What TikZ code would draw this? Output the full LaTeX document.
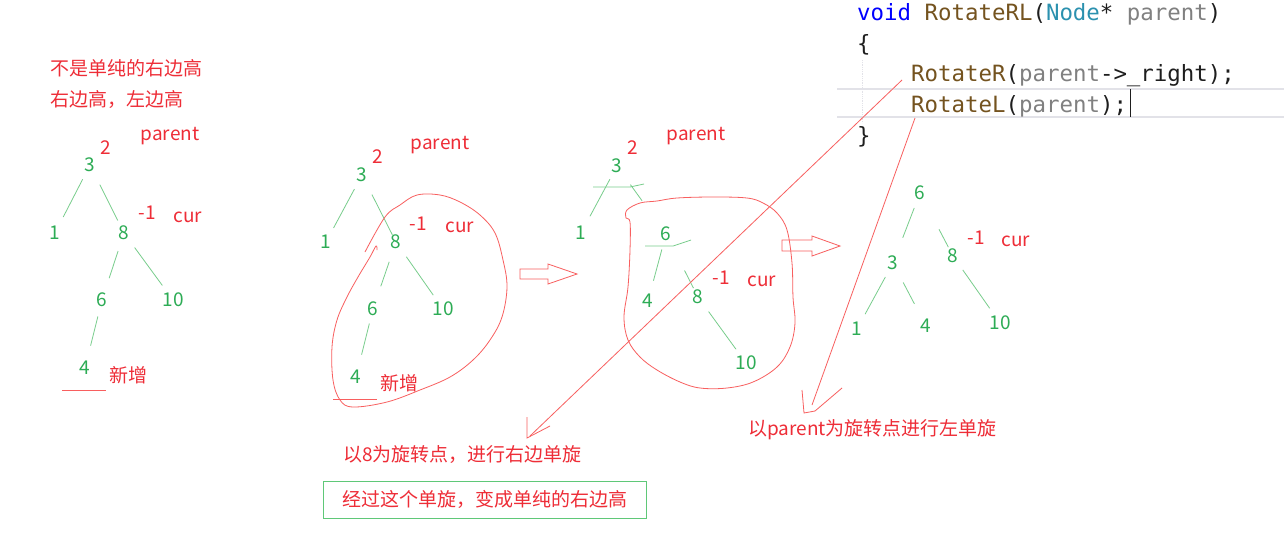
\documentclass[tikz,border=0pt]{standalone}
\usepackage{fontspec}
\setmainfont{Noto Sans CJK SC}
\newfontfamily\codefont{DejaVu Sans Mono}
\usetikzlibrary{positioning}
\definecolor{redtext}{RGB}{238,45,55}
\definecolor{redline}{RGB}{248,95,95}
\definecolor{greentext}{RGB}{45,172,85}
\definecolor{greenline}{RGB}{120,205,140}
\definecolor{boxgreen}{RGB}{95,200,120}
\definecolor{kwblue}{RGB}{0,0,255}
\definecolor{fnbrown}{RGB}{116,83,31}
\definecolor{tpteal}{RGB}{43,145,175}
\definecolor{pargray}{RGB}{128,128,128}
\definecolor{codedark}{RGB}{30,30,30}
\definecolor{guide}{RGB}{226,226,232}

\begin{document}
\begin{tikzpicture}[x=1pt, y=-1pt, font=\fontsize{19}{23}\selectfont,
  num/.style={text=greentext, inner sep=0pt},
  lab/.style={text=redtext, inner sep=0pt},
  tl/.style={draw=greenline, line width=0.8pt},
  pen/.style={draw=redline, line width=0.8pt},
  code/.style={text=codedark, inner sep=0pt, anchor=base west,
    font=\codefont\fontsize{22.4}{26}\selectfont}]
  \path[fill=white, use as bounding box] (0,0) rectangle (1284,542);

  % Tree 1
  \node[lab, anchor=west] (noteA) at (50,68) {不是单纯的右边高};
  \node[lab, anchor=west] (noteB) at (50,100) {右边高，左边高};
  \node[lab] (parA) at (170,136) {parent};
  \node[lab] (bfA3) at (106,148) {2};
  \node[num] (a3) at (90,165) {3};
  \node[num] (a1) at (55,233) {1};
  \node[num] (a8) at (124,233) {8};
  \node[lab] (bfA8) at (147,213) {-1};
  \node[lab] (curA) at (188,217) {cur};
  \node[num] (a6) at (102,300) {6};
  \node[num] (a10) at (173,300) {10};
  \node[num] (a4) at (85,368) {4};
  \node[lab] (newA) at (128,375) {新增};
  \draw[tl, shorten <=16pt, shorten >=18pt] (a3.center) -- (a1.center);
  \draw[tl, shorten <=22pt, shorten >=14pt] (a3.center) -- (a8.center);
  \draw[tl, shorten <=19pt, shorten >=23pt] (a8.center) -- (a6.center);
  \draw[tl, shorten <=18pt, shorten >=18pt] (a8.center) -- (a10.center);
  \draw[tl, shorten <=17pt, shorten >=23pt] (a6.center) -- (a4.center);
  \draw[pen] (62,390) -- (106,390);

  % Tree 2
  \node[lab] (parB) at (440,145) {parent};
  \node[lab] (bfB3) at (378,157) {2};
  \node[num] (b3) at (362,175) {3};
  \node[num] (b1) at (326,242) {1};
  \node[num] (b8) at (396,242) {8};
  \node[lab] (bfB8) at (418,224) {-1};
  \node[lab] (curB) at (460,227) {cur};
  \node[num] (b6) at (373,309) {6};
  \node[num] (b10) at (443,309) {10};
  \node[num] (b4) at (356,377) {4};
  \node[lab] (newB) at (399,383) {新增};
  \draw[tl, shorten <=16pt, shorten >=16pt] (b3.center) -- (b1.center);
  \draw[tl, shorten <=22pt, shorten >=8pt] (b3.center) -- (b8.center);
  \draw[tl, shorten <=21pt, shorten >=24pt] (b8.center) -- (b6.center);
  \draw[tl, shorten <=18pt, shorten >=17pt] (b8.center) -- (b10.center);
  \draw[tl, shorten <=15pt, shorten >=23pt] (b6.center) -- (b4.center);
  \draw[pen] (333,399) -- (377,399);
  \draw[pen] plot[smooth, tension=0.6] coordinates {(365,252) (385,217)
    (400,205) (417,195) (440,195) (460,202) (480,215) (495,233) (503,260)
    (507,287) (502,317) (490,340) (473,360) (450,377) (420,390) (387,402)
    (353,407) (340,400) (333,380) (332,347) (337,320) (347,297) (358,277)
    (370,257) (376,246) (377,250)};

  % arrow 1
  \draw[pen] (520,269) -- (548,269) -- (548,264) -- (577,274) -- (548,284)
    -- (548,279) -- (520,279) -- cycle;

  % Tree 3
  \node[lab] (parC) at (696,136) {parent};
  \node[lab] (bfC3) at (633,148) {2};
  \node[num] (c3) at (617,166) {3};
  \node[num] (c1) at (581,233) {1};
  \node[num] (c6) at (666,234) {6};
  \node[num] (c4) at (648,301) {4};
  \node[num] (c8) at (698,297) {8};
  \node[lab] (bfC8) at (721,278) {-1};
  \node[lab] (curC) at (762,281) {cur};
  \node[num] (c10) at (746,363) {10};
  \draw[tl, shorten <=15pt, shorten >=19pt] (c3.center) -- (c1.center);
  \draw[tl, shorten <=23pt, shorten >=41pt] (c3.center) -- (c6.center);
  \draw[tl, shorten <=16pt, shorten >=21pt] (c6.center) -- (c4.center);
  \draw[tl, shorten <=41pt, shorten >=10pt] (c6.center) -- (c8.center);
  \draw[tl, shorten <=18pt, shorten >=17pt] (c8.center) -- (c10.center);
  \draw[tl] (593,187) -- (630,187) -- (644,184);
  \draw[tl] (645,246) -- (673,246) -- (691,240);
  \draw[pen] plot[smooth cycle, tension=0.6] coordinates {(640,203) (627,210)
    (626,218) (630,222) (630,250) (628,287) (624,317) (628,340) (640,357)
    (657,370) (680,382) (700,388) (727,388) (753,382) (777,367) (790,347)
    (795,323) (793,297) (792,263) (787,230) (777,213) (763,203) (747,198)
    (713,197) (677,198) (657,201)};

  % arrow 2
  \draw[pen] (782,240) -- (812,240) -- (812,236) -- (840,246) -- (812,256)
    -- (812,251) -- (782,251) -- cycle;

  % Tree 4
  \node[num] (d6) at (920,193) {6};
  \node[num] (d3) at (893,263) {3};
  \node[num] (d8) at (953,256) {8};
  \node[lab] (bfD8) at (976,238) {-1};
  \node[lab] (curD) at (1016,241) {cur};
  \node[num] (d1) at (857,329) {1};
  \node[num] (d4) at (926,326) {4};
  \node[num] (d10) at (1000,323) {10};
  \draw[tl, shorten <=16pt, shorten >=27pt] (d6.center) -- (d3.center);
  \draw[tl, shorten <=41pt, shorten >=10pt] (d6.center) -- (d8.center);
  \draw[tl, shorten <=16pt, shorten >=17pt] (d3.center) -- (d1.center);
  \draw[tl, shorten <=22pt, shorten >=25pt] (d3.center) -- (d4.center);
  \draw[tl, shorten <=17pt, shorten >=18pt] (d8.center) -- (d10.center);

  % Code
  \draw[guide, line width=1.5pt] (837,89) -- (1284,89);
  \draw[guide, line width=1.5pt] (837,117) -- (1284,117);
  \draw[guide, densely dotted, line width=0.8pt] (862,60) -- (862,123);
  \draw[codedark, line width=0.8pt] (1130,89) -- (1130,117);
  \node[code] (codeA) at (857,20) {\textcolor{kwblue}{void}
    \textcolor{fnbrown}{RotateRL}(\textcolor{tpteal}{Node}*
    \textcolor{pargray}{parent})};
  \node[code] (codeB) at (857,51) {\{};
  \node[code] (codeC) at (911,81) {\textcolor{fnbrown}{RotateR}(\textcolor{pargray}{parent}->\_right);};
  \node[code] (codeD) at (911,112) {\textcolor{fnbrown}{RotateL}(\textcolor{pargray}{parent});};
  \node[code] (codeE) at (857,143) {\}};

  % Notes
  \coordinate (rotRfrom) at (902,80);
  \coordinate (rotRto) at (530,436);
  \draw[pen] (rotRfrom) -- (rotRto);
  \draw[pen] (rotRto) ++(-3,-19) -- ++(0,21) -- ++(23,-12);
  \coordinate (rotLfrom) at (915,118);
  \coordinate (rotLto) at (812,405);
  \draw[pen] (rotLfrom) -- (rotLto);
  \draw[pen] (rotLto) ++(-10,-15) -- ++(2,23) -- ++(11,-2) -- ++(27,-23);
  \node[lab, anchor=west] (noteC) at (343,455) {以8为旋转点，进行右边单旋};
  \node[lab, draw=boxgreen, line width=0.8pt, minimum width=323pt,
    minimum height=37pt] (noteD) at (484.5,499.5) {经过这个单旋，变成单纯的右边高};
  \node[lab, anchor=west] (noteE) at (748,430) {以parent为旋转点进行左单旋};
\end{tikzpicture}
\end{document}
